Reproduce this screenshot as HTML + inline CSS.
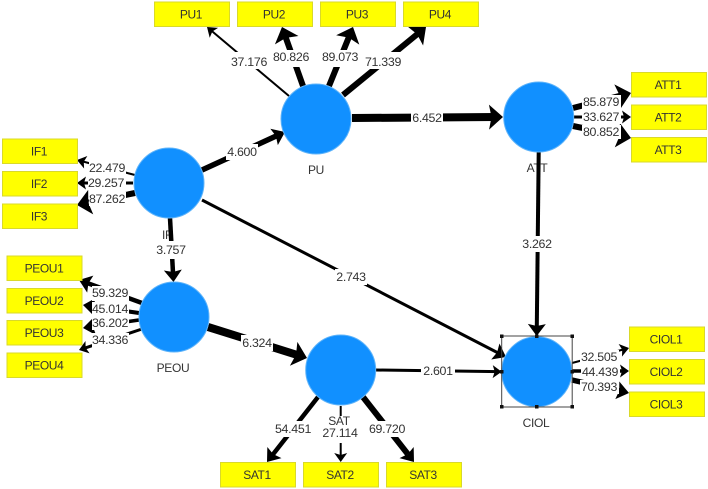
<!DOCTYPE html>
<html lang="en">
<head>
<meta charset="utf-8">
<title>Structural model diagram</title>
<style>
html,body{margin:0;padding:0;background:#fff;width:708px;height:489px;overflow:hidden}
svg{display:block;filter:blur(.35px)}
text{font-family:"Liberation Sans",sans-serif;fill:#333;text-anchor:middle;dominant-baseline:central}
.n{font-size:12.4px;letter-spacing:-.3px}
.b{font-size:12px;letter-spacing:-.4px;fill:#26261a}
.l{font-size:12px;letter-spacing:-.3px;fill:#3d3d3d}
.box{fill:#ffff00;stroke:#d9d92a;stroke-width:1}
.c{fill:#1190ff;stroke:#5fb4fa;stroke-width:1}
line{stroke:#000;stroke-linecap:butt}
.w{fill:#fff}
</style>
</head>
<body>
<svg width="708" height="489" viewBox="0 0 708 489" xmlns="http://www.w3.org/2000/svg">
<defs>
<marker id="s" markerUnits="userSpaceOnUse" markerWidth="10" markerHeight="14" refX="9" refY="7" orient="auto" overflow="visible"><path d="M0 0.5L9 7L0 13.5L2 7Z"/></marker>
<marker id="m" markerUnits="userSpaceOnUse" markerWidth="13" markerHeight="18" refX="12" refY="9" orient="auto" overflow="visible"><path d="M0 0L12 9L0 18L2 9Z"/></marker>
<marker id="g" markerUnits="userSpaceOnUse" markerWidth="15" markerHeight="25" refX="14" refY="12.500" orient="auto" overflow="visible"><path d="M0 0L14 12.500L0 25L2.500 12.500Z"/></marker>
</defs>

<!-- names crossed by connectors -->
<g class="l">
<text x="537" y="168">ATT</text>
<text x="167" y="235">IF</text>
</g>

<!-- connectors -->
<line x1="289" y1="96" x2="207" y2="27" stroke-width="2" pathLength="100" stroke-dasharray="94 100" marker-end="url(#s)"/>
<line x1="303" y1="86" x2="282" y2="27" stroke-width="6" pathLength="100" stroke-dasharray="84 100" marker-end="url(#g)"/>
<line x1="329" y1="86" x2="353" y2="27" stroke-width="6" pathLength="100" stroke-dasharray="84 100" marker-end="url(#g)"/>
<line x1="343" y1="95" x2="426" y2="27" stroke-width="6" pathLength="100" stroke-dasharray="90 100" marker-end="url(#g)"/>
<line x1="352" y1="118" x2="503" y2="117" stroke-width="8" pathLength="100" stroke-dasharray="95 100" marker-end="url(#g)"/>
<line x1="202" y1="170" x2="285" y2="132" stroke-width="5.500" pathLength="100" stroke-dasharray="90 100" marker-end="url(#m)"/>
<line x1="170" y1="218" x2="173.500" y2="282" stroke-width="4.500" pathLength="100" stroke-dasharray="90 100" marker-end="url(#m)"/>
<line x1="202" y1="200" x2="506" y2="357" stroke-width="3" pathLength="100" stroke-dasharray="98 100" marker-end="url(#m)"/>
<line x1="538.700" y1="152" x2="536.700" y2="336" stroke-width="4" pathLength="100" stroke-dasharray="97 100" marker-end="url(#m)"/>
<line x1="208" y1="327" x2="307" y2="358" stroke-width="8" pathLength="100" stroke-dasharray="92 100" marker-end="url(#g)"/>
<line x1="376" y1="370" x2="501.700" y2="371.700" stroke-width="3" pathLength="100" stroke-dasharray="97 100" marker-end="url(#s)"/>
<line x1="318" y1="397" x2="267" y2="462" stroke-width="4.500" pathLength="100" stroke-dasharray="90 100" marker-end="url(#m)"/>
<line x1="340.700" y1="406" x2="340.700" y2="462" stroke-width="2" pathLength="100" stroke-dasharray="92 100" marker-end="url(#s)"/>
<line x1="363" y1="397" x2="414" y2="462" stroke-width="6" pathLength="100" stroke-dasharray="88 100" marker-end="url(#m)"/>

<line x1="135" y1="175" x2="77" y2="160" stroke-width="2" pathLength="100" stroke-dasharray="90 100" marker-end="url(#s)"/>
<line x1="133" y1="183" x2="77" y2="183" stroke-width="3" pathLength="100" stroke-dasharray="90 100" marker-end="url(#s)"/>
<line x1="135" y1="193" x2="77" y2="205" stroke-width="6" pathLength="100" stroke-dasharray="80 100" marker-end="url(#g)"/>
<line x1="142" y1="303" x2="79" y2="280" stroke-width="4.500" pathLength="100" stroke-dasharray="86 100" marker-end="url(#m)"/>
<line x1="139" y1="313" x2="83" y2="305" stroke-width="4" pathLength="100" stroke-dasharray="86 100" marker-end="url(#m)"/>
<line x1="139" y1="320" x2="83" y2="328" stroke-width="3.500" pathLength="100" stroke-dasharray="88 100" marker-end="url(#m)"/>
<line x1="142" y1="329" x2="79" y2="350" stroke-width="3" pathLength="100" stroke-dasharray="90 100" marker-end="url(#s)"/>

<line x1="573" y1="108" x2="631" y2="93" stroke-width="6" pathLength="100" stroke-dasharray="82 100" marker-end="url(#g)"/>
<line x1="574" y1="117" x2="631" y2="117" stroke-width="3" pathLength="100" stroke-dasharray="90 100" marker-end="url(#s)"/>
<line x1="573" y1="126" x2="631" y2="138" stroke-width="6" pathLength="100" stroke-dasharray="82 100" marker-end="url(#g)"/>

<line x1="572" y1="363" x2="629" y2="348" stroke-width="2" pathLength="100" stroke-dasharray="90 100" marker-end="url(#s)"/>
<line x1="572" y1="371" x2="629" y2="371" stroke-width="3.500" pathLength="100" stroke-dasharray="90 100" marker-end="url(#s)"/>
<line x1="572" y1="380" x2="629" y2="393" stroke-width="5.500" pathLength="100" stroke-dasharray="84 100" marker-end="url(#m)"/>

<!-- label backgrounds -->
<g class="w">
<rect x="229" y="52" width="40" height="17"/>
<rect x="271" y="50" width="40" height="17"/>
<rect x="320" y="50" width="40" height="17"/>
<rect x="363" y="52" width="40" height="17"/>
<rect x="411" y="110" width="32" height="17"/>
<rect x="226" y="144" width="32" height="16"/>
<rect x="89" y="161" width="37" height="14"/>
<rect x="88" y="176" width="38" height="14"/>
<rect x="89" y="192" width="37" height="14"/>
<rect x="154" y="241" width="34" height="18"/>
<rect x="92" y="286" width="37" height="15"/>
<rect x="92" y="302" width="37" height="14"/>
<rect x="92" y="316" width="37" height="14"/>
<rect x="92" y="333" width="37" height="15"/>
<rect x="582" y="95" width="39" height="14"/>
<rect x="582" y="110" width="39" height="14"/>
<rect x="582" y="125" width="39" height="14"/>
<rect x="521" y="236" width="32" height="16"/>
<rect x="335" y="269" width="32" height="16"/>
<rect x="241" y="335" width="32" height="16"/>
<rect x="421" y="363" width="34" height="16"/>
<rect x="273" y="421" width="40" height="16"/>
<rect x="322" y="416" width="37" height="27"/>
<rect x="367" y="421" width="40" height="16"/>
<rect x="580" y="350" width="39" height="14"/>
<rect x="581" y="365" width="39" height="14"/>
<rect x="580" y="380" width="39" height="14"/>
</g>

<!-- constructs -->
<circle class="c" cx="169" cy="183" r="35"/>
<circle class="c" cx="174" cy="317" r="35"/>
<circle class="c" cx="316" cy="119" r="35"/>
<circle class="c" cx="538.700" cy="117" r="35"/>
<circle class="c" cx="536.700" cy="371.700" r="35"/>
<circle class="c" cx="340.700" cy="370" r="35"/>

<!-- selection frame -->
<rect x="501.700" y="336" width="70.500" height="71" fill="none" stroke="#444" stroke-width="1"/>
<g fill="#111">
<rect x="500" y="334.500" width="3.500" height="3.500"/><rect x="535" y="334.500" width="3.500" height="3.500"/><rect x="570.500" y="334.500" width="3.500" height="3.500"/>
<rect x="500" y="370" width="3.500" height="3.500"/><rect x="570.500" y="370" width="3.500" height="3.500"/>
<rect x="500" y="405" width="3.500" height="3.500"/><rect x="535" y="405" width="3.500" height="3.500"/><rect x="570.500" y="405" width="3.500" height="3.500"/>
</g>

<!-- indicators -->
<g class="box">
<rect x="154.500" y="2" width="75" height="24.500"/>
<rect x="237.500" y="2" width="75" height="24.500"/>
<rect x="320.500" y="2" width="75" height="24.500"/>
<rect x="403.500" y="2" width="75" height="24.500"/>
<rect x="2.500" y="139" width="75" height="24.500"/>
<rect x="2.500" y="171.500" width="75" height="24.500"/>
<rect x="2.500" y="204" width="75" height="24.500"/>
<rect x="7" y="256" width="75" height="24.500"/>
<rect x="7" y="288.500" width="75" height="24.500"/>
<rect x="7" y="320.500" width="75" height="24.500"/>
<rect x="7" y="353" width="75" height="24.500"/>
<rect x="631.500" y="72.500" width="75" height="24.500"/>
<rect x="631.500" y="105" width="75" height="24.500"/>
<rect x="631.500" y="137.500" width="75" height="24.500"/>
<rect x="629.500" y="327" width="75" height="24.500"/>
<rect x="629.500" y="359.500" width="75" height="24.500"/>
<rect x="629.500" y="392" width="75" height="24.500"/>
<rect x="220.500" y="462.500" width="75" height="24.500"/>
<rect x="303.500" y="462.500" width="75" height="24.500"/>
<rect x="386.500" y="462.500" width="75" height="24.500"/>
</g>
<g class="b">
<text x="191" y="14.500">PU1</text>
<text x="274" y="14.500">PU2</text>
<text x="357" y="14.500">PU3</text>
<text x="440" y="14.500">PU4</text>
<text x="39" y="151.500">IF1</text>
<text x="39" y="184">IF2</text>
<text x="39" y="216.500">IF3</text>
<text x="44" y="268.500">PEOU1</text>
<text x="44" y="301">PEOU2</text>
<text x="44" y="333">PEOU3</text>
<text x="44" y="365.500">PEOU4</text>
<text x="668" y="85">ATT1</text>
<text x="668" y="117.500">ATT2</text>
<text x="668" y="150">ATT3</text>
<text x="666" y="339.500">CIOL1</text>
<text x="666" y="372">CIOL2</text>
<text x="666" y="404.500">CIOL3</text>
<text x="257" y="475">SAT1</text>
<text x="340" y="475">SAT2</text>
<text x="423" y="475">SAT3</text>
</g>

<!-- construct names -->
<g class="l">
<text x="316" y="170">PU</text>
<text x="173" y="368">PEOU</text>
<text x="339" y="421">SAT</text>
<text x="536" y="423">CIOL</text>
</g>

<!-- coefficients -->
<g class="n">
<text x="249" y="62">37.176</text>
<text x="291" y="57">80.826</text>
<text x="340" y="57">89.073</text>
<text x="383" y="62">71.339</text>
<text x="427" y="118">6.452</text>
<text x="242" y="152">4.600</text>
<text x="107" y="168">22.479</text>
<text x="106" y="183">29.257</text>
<text x="107" y="199">87.262</text>
<text x="171" y="250">3.757</text>
<text x="110" y="293">59.329</text>
<text x="110" y="309">45.014</text>
<text x="110" y="323">36.202</text>
<text x="110" y="340">34.336</text>
<text x="601" y="102">85.879</text>
<text x="601" y="117">33.627</text>
<text x="601" y="132">80.852</text>
<text x="537" y="244">3.262</text>
<text x="351" y="277">2.743</text>
<text x="257" y="343">6.324</text>
<text x="438" y="371">2.601</text>
<text x="293" y="429">54.451</text>
<text x="340" y="433">27.114</text>
<text x="387" y="429">69.720</text>
<text x="599" y="357">32.505</text>
<text x="600" y="372">44.439</text>
<text x="599" y="387">70.393</text>
</g>
</svg>
</body>
</html>
